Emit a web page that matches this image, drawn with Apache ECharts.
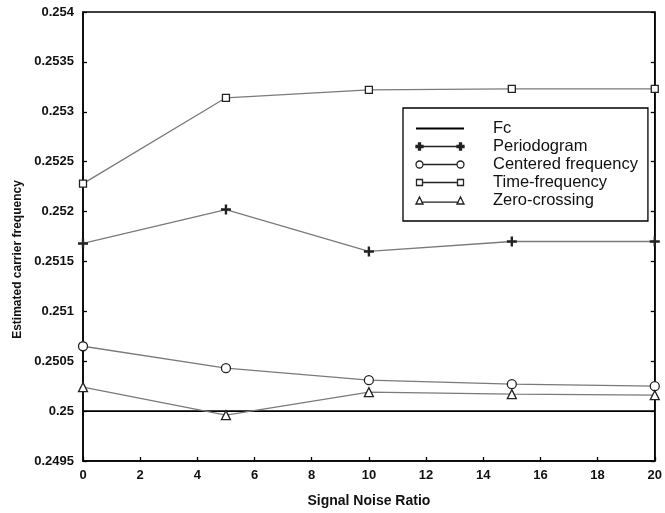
<!DOCTYPE html>
<html>
<head>
<meta charset="utf-8">
<script src="https://cdn.jsdelivr.net/npm/echarts@6/dist/echarts.min.js"></script>
<style>html,body{margin:0;padding:0;background:#fff;}#c{width:665px;height:513px;}</style>
</head>
<body>
<div id="c"></div>
<script>
const snr = [0, 5, 10, 15, 20];
const fcX = [0, 20];
const fcVal = [0.25, 0.25];
const periodogram = [0.25168, 0.25202, 0.25160, 0.25170, 0.25170];
const centered = [0.25065, 0.25043, 0.25031, 0.25027, 0.25025];
const timeFreq = [0.25228, 0.25314, 0.25322, 0.25323, 0.25323];
const zeroCross = [0.25024, 0.24996, 0.25019, 0.25017, 0.25016];
const seriesNames = ['Fc', 'Periodogram', 'Centered frequency', 'Time-frequency', 'Zero-crossing'];
const yTicks = { min: 0.2495, max: 0.254, step: 0.0005 };
const xTicks = { min: 0, max: 20, step: 2 };

const pair = (xs, ys) => xs.map((x, i) => [x, ys[i]]);
const FONT = '"Liberation Sans", Arial, sans-serif';
const plusPath = 'path://M-1.2,-5L1.2,-5L1.2,-1.2L5,-1.2L5,1.2L1.2,1.2L1.2,5L-1.2,5L-1.2,1.2L-5,1.2L-5,-1.2L-1.2,-1.2Z';

// legend icons: line with a marker at both ends (48 x 7 box)
function plusAt(c) {
  return `M${c - 1},0L${c + 1},0L${c + 1},2.5L${c + 3.5},2.5L${c + 3.5},4.5L${c + 1},4.5L${c + 1},7L${c - 1},7L${c - 1},4.5L${c - 3.5},4.5L${c - 3.5},2.5L${c - 1},2.5Z`;
}
const legendIcons = {
  'Periodogram': 'path://' + plusAt(3.5) + 'M3.5,3.5L44.5,3.5' + plusAt(44.5),
  'Centered frequency': 'path://M0,3.5a3.5,3.5 0 1,0 7,0a3.5,3.5 0 1,0 -7,0ZM7,3.5L41,3.5M41,3.5a3.5,3.5 0 1,0 7,0a3.5,3.5 0 1,0 -7,0Z',
  'Time-frequency': 'path://M0.5,0.5L6.5,0.5L6.5,6.5L0.5,6.5ZM6.5,3.5L41.5,3.5M41.5,0.5L47.5,0.5L47.5,6.5L41.5,6.5ZM0,0M48,7',
  'Zero-crossing': 'path://M0,7L3.5,0L7,7ZM5.2,5.2L42.8,5.2M41,7L44.5,0L48,7Z'
};

function dataSeries(name, vals, symbol, size, filled) {
  return {
    name, type: 'line', data: pair(snr, vals),
    symbol, symbolSize: size, showSymbol: true,
    lineStyle: { color: '#7a7a7a', width: 1.3 },
    itemStyle: { color: filled ? '#222' : '#fff', borderColor: '#222', borderWidth: filled ? 0 : 1.3 },
    color: '#7a7a7a',
    emphasis: { disabled: true }, z: 3
  };
}

const legendData = seriesNames.map(n => {
  if (n === 'Fc') return { name: n };
  const filled = n === 'Periodogram';
  return {
    name: n, icon: legendIcons[n],
    itemStyle: { color: filled ? '#222' : '#fff', borderColor: '#222', borderWidth: 1.3 }
  };
});

const chart = echarts.init(document.getElementById('c'), null, { renderer: 'canvas' });
const axisCommon = {
  axisLine: { show: true, lineStyle: { color: '#000', width: 1.5 } },
  axisTick: { show: true, inside: true, length: 4, lineStyle: { color: '#000', width: 1.3 } },
  splitLine: { show: false }
};
chart.setOption({
  animation: false,
  backgroundColor: '#fff',
  grid: { left: 83, right: 6, top: 12, bottom: 49, show: true, borderColor: '#000', borderWidth: 1.5, backgroundColor: 'transparent' },
  xAxis: Object.assign({
    type: 'value', min: xTicks.min, max: xTicks.max, interval: xTicks.step,
    name: 'Signal Noise Ratio', nameLocation: 'middle', nameGap: 33,
    nameTextStyle: { fontFamily: FONT, fontSize: 14, fontWeight: 'bold', color: '#111' },
    axisLabel: { fontFamily: FONT, fontSize: 13, fontWeight: 'bold', color: '#111', margin: 8 }
  }, axisCommon),
  yAxis: [Object.assign({
    type: 'value', min: yTicks.min, max: yTicks.max, interval: yTicks.step,
    name: 'Estimated carrier frequency', nameLocation: 'middle', nameGap: 57,
    nameTextStyle: { fontFamily: FONT, fontSize: 12, fontWeight: 'bold', color: '#111', padding: [0, 46, 0, 0] },
    axisLabel: { fontFamily: FONT, fontSize: 13, fontWeight: 'bold', color: '#111', margin: 9,
      formatter: v => String(+v.toFixed(4)) }
  }, axisCommon), Object.assign({
    type: 'value', position: 'right', min: yTicks.min, max: yTicks.max, interval: yTicks.step,
    axisLabel: { show: false }
  }, axisCommon)],
  legend: {
    orient: 'vertical', left: 403, top: 108,
    padding: [12, 10, 12, 12],
    backgroundColor: '#fff', borderColor: '#000', borderWidth: 1.3,
    itemWidth: 48, itemHeight: 7, itemGap: 1,
    data: legendData,
    textStyle: { fontFamily: FONT, fontSize: 16.5, lineHeight: 16, color: '#111', padding: [0, 0, 0, 24] },
    selectedMode: false
  },
  series: [
    {
      name: seriesNames[0], type: 'line', data: pair(fcX, fcVal), symbol: 'circle', showSymbol: false,
      lineStyle: { color: '#000', width: 1.6 }, color: '#000',
      itemStyle: { color: 'rgba(0,0,0,0)', borderWidth: 0, opacity: 0 },
      emphasis: { disabled: true }, z: 2
    },
    dataSeries(seriesNames[1], periodogram, plusPath, 10, true),
    dataSeries(seriesNames[2], centered, 'circle', 9, false),
    dataSeries(seriesNames[3], timeFreq, 'rect', 7, false),
    dataSeries(seriesNames[4], zeroCross, 'triangle', 9, false)
  ]
});
</script>
</body>
</html>
